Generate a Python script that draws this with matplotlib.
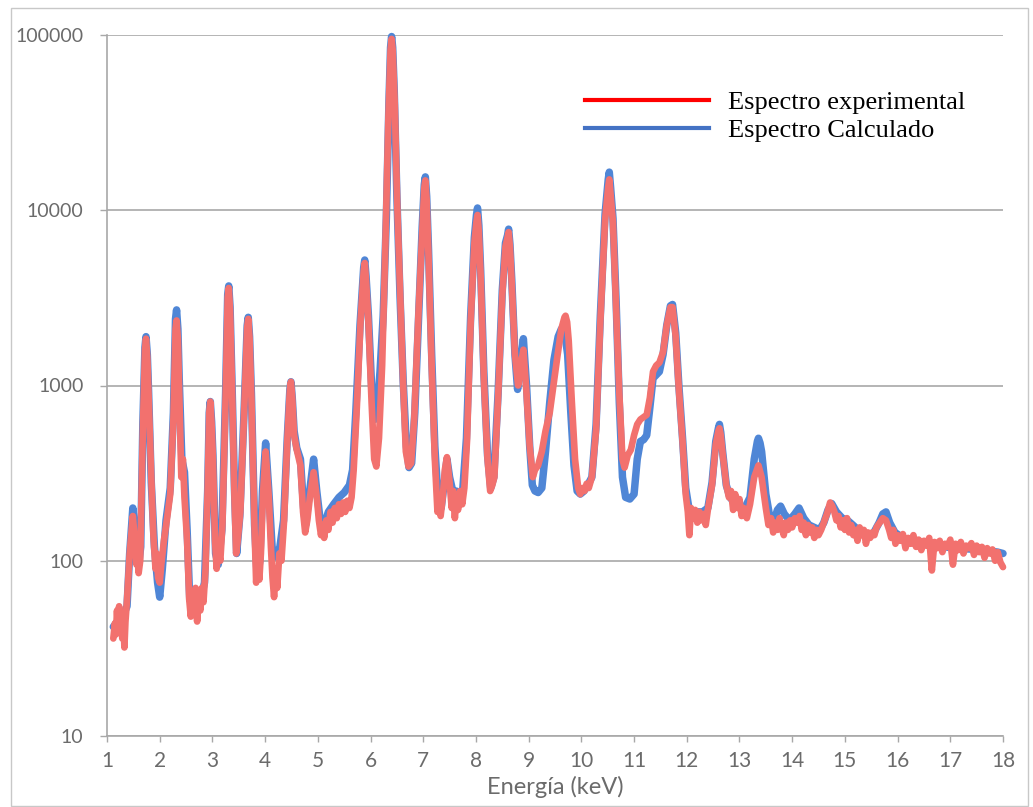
import matplotlib
matplotlib.use("Agg")
import matplotlib.pyplot as plt
from matplotlib.lines import Line2D
from matplotlib.patches import Rectangle

# energy (keV) and counts
calc_e = [1.12, 1.20, 1.30, 1.38, 1.43, 1.49, 1.55, 1.60, 1.64, 1.68, 1.72, 1.74, 1.765, 1.79, 1.84,
          1.90, 1.96, 2.00, 2.05, 2.12, 2.20, 2.26, 2.30, 2.32, 2.345, 2.37, 2.42, 2.47, 2.52, 2.57,
          2.65, 2.75, 2.85, 2.91, 2.94, 2.96, 2.985, 3.01, 3.06, 3.11, 3.18, 3.25, 3.29, 3.31, 3.335,
          3.37, 3.42, 3.46, 3.52, 3.60, 3.66, 3.68, 3.705, 3.74, 3.80, 3.85, 3.90, 3.95, 4.01, 4.07,
          4.14, 4.20, 4.28, 4.35, 4.42, 4.47, 4.49, 4.515, 4.55, 4.60, 4.67, 4.73, 4.77, 4.83, 4.92,
          4.98, 5.05, 5.12, 5.20, 5.30, 5.40, 5.50, 5.60, 5.66, 5.72, 5.80, 5.87, 5.89, 5.915, 5.96,
          6.02, 6.08, 6.12, 6.18, 6.24, 6.30, 6.35, 6.38, 6.40, 6.42, 6.45, 6.50, 6.56, 6.62, 6.68,
          6.73, 6.78, 6.84, 6.92, 6.98, 7.02, 7.04, 7.065, 7.10, 7.16, 7.22, 7.28, 7.34, 7.40, 7.45,
          7.50, 7.56, 7.62, 7.68, 7.75, 7.82, 7.90, 7.97, 8.01, 8.03, 8.055, 8.09, 8.15, 8.22, 8.28,
          8.34, 8.42, 8.50, 8.56, 8.60, 8.62, 8.645, 8.68, 8.74, 8.79, 8.84, 8.90, 8.96, 9.02, 9.07,
          9.12, 9.18, 9.25, 9.32, 9.40, 9.48, 9.56, 9.62, 9.68, 9.74, 9.80, 9.86, 9.92, 9.98, 10.05,
          10.12, 10.20, 10.28, 10.36, 10.45, 10.51, 10.53, 10.555, 10.60, 10.66, 10.72, 10.78, 10.84, 10.92, 11.00,
          11.06, 11.12, 11.18, 11.24, 11.30, 11.36, 11.42, 11.48, 11.55, 11.62, 11.69, 11.73, 11.79, 11.85, 11.92,
          11.98, 12.04, 12.10, 12.20, 12.30, 12.40, 12.48, 12.55, 12.60, 12.62, 12.645, 12.68, 12.75, 12.82, 12.90,
          13.00, 13.10, 13.20, 13.28, 13.34, 13.36, 13.39, 13.42, 13.50, 13.58, 13.66, 13.72, 13.78, 13.85, 13.95,
          14.05, 14.13, 14.22, 14.32, 14.42, 14.52, 14.60, 14.68, 14.75, 14.84, 14.95, 15.05, 15.15, 15.25, 15.35,
          15.45, 15.55, 15.65, 15.72, 15.78, 15.85, 15.95, 16.10, 16.30, 16.50, 16.70, 16.90, 17.10, 17.30, 17.50,
          17.70, 17.90, 18.00]
calc_counts = [42, 45, 48, 55, 110, 200, 130, 95, 120, 600, 1650, 1900, 1500, 900, 280,
               120, 75, 62, 90, 170, 260, 700, 2400, 2700, 2100, 1100, 380, 320, 150, 60,
               55, 55, 75, 250, 700, 810, 620, 400, 110, 95, 150, 900, 3300, 3700, 2800,
               1100, 250, 110, 180, 700, 2200, 2450, 1900, 900, 160, 80, 100, 250, 470, 250,
               110, 105, 120, 170, 500, 950, 1050, 850, 550, 440, 380, 200, 160, 230, 380,
               250, 165, 160, 190, 210, 230, 245, 270, 330, 700, 2200, 4700, 5200, 4200, 2500,
               1000, 640, 700, 1200, 2500, 9000, 42000, 85000, 98000, 85000, 48000, 12000, 3200, 1050, 450,
               340, 360, 700, 2800, 8000, 14000, 15500, 12000, 6000, 1500, 450, 230, 200, 280, 380,
               300, 250, 250, 245, 255, 500, 2500, 7000, 9400, 10300, 8200, 4500, 1200, 400, 260,
               300, 900, 3500, 6500, 7200, 7800, 6400, 4000, 1500, 950, 1300, 1850, 1000, 450, 270,
               250, 245, 260, 420, 800, 1400, 1900, 2100, 2050, 1500, 700, 350, 250, 240, 250,
               270, 300, 600, 2500, 9500, 15000, 16500, 13500, 9000, 3000, 800, 300, 230, 225, 240,
               380, 480, 490, 520, 750, 1100, 1150, 1200, 1500, 2200, 2850, 2900, 2000, 1000, 500,
               260, 200, 190, 190, 190, 200, 280, 480, 570, 600, 540, 420, 270, 230, 215,
               205, 200, 230, 380, 480, 500, 470, 420, 240, 175, 170, 195, 205, 185, 170,
               185, 200, 175, 160, 155, 150, 165, 195, 212, 190, 175, 170, 160, 150, 145,
               140, 145, 165, 185, 190, 165, 145, 135, 130, 125, 122, 120, 118, 117, 116,
               114, 112, 110]

exp_e = [1.12, 1.15, 1.17, 1.19, 1.21, 1.23, 1.25, 1.27, 1.29, 1.31, 1.33, 1.35, 1.38, 1.43, 1.49,
         1.53, 1.56, 1.58, 1.60, 1.63, 1.68, 1.72, 1.74, 1.765, 1.79, 1.84, 1.88, 1.92, 1.94, 1.97,
         2.00, 2.03, 2.08, 2.14, 2.20, 2.26, 2.30, 2.32, 2.345, 2.37, 2.41, 2.44, 2.47, 2.52, 2.56,
         2.59, 2.62, 2.65, 2.68, 2.71, 2.74, 2.77, 2.80, 2.83, 2.87, 2.91, 2.94, 2.96, 2.985, 3.01,
         3.05, 3.08, 3.11, 3.15, 3.19, 3.25, 3.29, 3.31, 3.335, 3.37, 3.42, 3.45, 3.48, 3.53, 3.60,
         3.66, 3.68, 3.705, 3.74, 3.80, 3.83, 3.86, 3.89, 3.92, 3.96, 4.01, 4.07, 4.11, 4.14, 4.17,
         4.20, 4.23, 4.27, 4.31, 4.36, 4.42, 4.47, 4.49, 4.515, 4.55, 4.60, 4.67, 4.72, 4.76, 4.80,
         4.85, 4.92, 4.98, 5.02, 5.06, 5.09, 5.12, 5.16, 5.20, 5.24, 5.28, 5.32, 5.36, 5.40, 5.44,
         5.48, 5.52, 5.56, 5.60, 5.64, 5.68, 5.74, 5.81, 5.87, 5.89, 5.915, 5.96, 6.02, 6.07, 6.11,
         6.16, 6.22, 6.28, 6.34, 6.38, 6.40, 6.42, 6.46, 6.51, 6.57, 6.62, 6.67, 6.72, 6.77, 6.83,
         6.91, 6.98, 7.02, 7.04, 7.065, 7.10, 7.16, 7.22, 7.27, 7.30, 7.33, 7.37, 7.41, 7.45, 7.50,
         7.54, 7.57, 7.60, 7.63, 7.66, 7.70, 7.74, 7.78, 7.83, 7.90, 7.97, 8.01, 8.03, 8.055, 8.09,
         8.15, 8.22, 8.27, 8.31, 8.35, 8.42, 8.50, 8.56, 8.60, 8.62, 8.645, 8.68, 8.74, 8.80, 8.85,
         8.90, 8.96, 9.02, 9.08, 9.12, 9.18, 9.25, 9.32, 9.40, 9.47, 9.55, 9.62, 9.68, 9.70, 9.73,
         9.76, 9.82, 9.88, 9.94, 9.98, 10.02, 10.06, 10.10, 10.14, 10.20, 10.28, 10.36, 10.45, 10.51, 10.53,
         10.555, 10.60, 10.66, 10.72, 10.78, 10.82, 10.88, 10.94, 11.00, 11.06, 11.12, 11.18, 11.24, 11.30, 11.36,
         11.42, 11.48, 11.55, 11.62, 11.69, 11.73, 11.79, 11.85, 11.92, 11.98, 12.02, 12.05, 12.08, 12.12, 12.16,
         12.20, 12.24, 12.28, 12.32, 12.36, 12.40, 12.48, 12.55, 12.60, 12.62, 12.645, 12.68, 12.75, 12.80, 12.84,
         12.88, 12.92, 12.96, 13.00, 13.04, 13.08, 13.14, 13.20, 13.28, 13.36, 13.42, 13.50, 13.55, 13.60, 13.64,
         13.68, 13.72, 13.76, 13.80, 13.84, 13.88, 13.92, 13.96, 14.00, 14.05, 14.10, 14.14, 14.18, 14.22, 14.26,
         14.30, 14.34, 14.38, 14.42, 14.46, 14.50, 14.55, 14.60, 14.66, 14.72, 14.76, 14.80, 14.84, 14.88, 14.92,
         14.96, 15.00, 15.04, 15.08, 15.12, 15.16, 15.20, 15.24, 15.28, 15.32, 15.36, 15.40, 15.44, 15.48, 15.52,
         15.56, 15.60, 15.66, 15.72, 15.78, 15.84, 15.88, 15.92, 15.96, 16.00, 16.05, 16.10, 16.15, 16.20, 16.25,
         16.30, 16.35, 16.40, 16.45, 16.50, 16.55, 16.60, 16.65, 16.70, 16.75, 16.80, 16.85, 16.90, 16.95, 17.00,
         17.05, 17.10, 17.15, 17.20, 17.25, 17.30, 17.35, 17.40, 17.45, 17.50, 17.55, 17.60, 17.65, 17.70, 17.75,
         17.80, 17.85, 17.90, 17.95, 18.00]
exp_counts = [36, 44, 38, 52, 40, 55, 42, 50, 36, 48, 32, 45, 60, 110, 180,
              130, 95, 110, 85, 100, 550, 1600, 1850, 1450, 850, 300, 140, 90, 110, 80,
              75, 95, 130, 175, 240, 650, 2100, 2350, 1850, 900, 300, 380, 230, 130, 60,
              48, 65, 50, 70, 45, 62, 52, 70, 58, 90, 260, 700, 810, 600, 380,
              130, 90, 115, 100, 160, 850, 3200, 3600, 2700, 1050, 220, 110, 130, 190, 680,
              2150, 2400, 1850, 850, 150, 75, 105, 78, 110, 240, 420, 230, 120, 80, 62,
              90, 70, 110, 100, 170, 480, 950, 1050, 850, 520, 430, 350, 190, 145, 170,
              230, 320, 230, 170, 140, 160, 135, 170, 150, 190, 165, 200, 175, 210, 185,
              215, 190, 220, 200, 230, 330, 750, 2300, 4500, 5000, 4000, 2300, 800, 380, 345,
              500, 1300, 6000, 35000, 82000, 95000, 82000, 40000, 10000, 2800, 1000, 420, 345, 360, 650,
              2600, 7500, 13400, 14800, 11500, 5500, 1300, 380, 190, 230, 180, 230, 330, 390, 280,
              200, 250, 175, 230, 195, 250, 210, 260, 480, 2300, 6500, 8600, 9400, 7500, 4200,
              1100, 380, 250, 270, 300, 850, 3300, 6200, 7000, 7500, 6200, 3800, 1500, 1000, 1300,
              1600, 900, 450, 300, 330, 350, 420, 550, 700, 1000, 1500, 2100, 2450, 2500, 2300,
              1800, 800, 380, 260, 240, 260, 250, 275, 260, 300, 560, 2300, 8800, 13600, 15000,
              12300, 8500, 2800, 900, 380, 340, 400, 430, 520, 600, 640, 660, 680, 850, 1200,
              1300, 1350, 1550, 2200, 2800, 2800, 1900, 950, 480, 240, 190, 140, 200, 175, 195,
              165, 190, 170, 185, 160, 195, 270, 460, 550, 570, 520, 410, 270, 230, 250,
              195, 240, 200, 225, 180, 200, 175, 210, 300, 350, 300, 200, 160, 175, 145,
              165, 150, 175, 155, 140, 165, 150, 170, 155, 175, 165, 180, 150, 165, 140,
              160, 145, 155, 135, 150, 140, 150, 165, 185, 215, 205, 190, 170, 180, 155,
              170, 150, 175, 145, 160, 140, 150, 130, 155, 140, 150, 125, 145, 135, 145,
              140, 155, 165, 175, 170, 150, 135, 150, 125, 140, 130, 142, 118, 135, 125,
              140, 120, 132, 115, 130, 122, 135, 88, 128, 118, 130, 112, 125, 120, 132,
              95, 125, 115, 128, 110, 122, 118, 126, 108, 122, 112, 120, 104, 118, 110,
              116, 100, 112, 98, 92]

legend_labels = ["Espectro experimental", "Espectro Calculado"]
y_ticks = [10, 100, 1000, 10000, 100000]
x_ticks = list(range(1, 19))

plt.rcParams['font.family'] = ['Lato', 'DejaVu Sans']
grey = '#6b6b6b'

fig = plt.figure(figsize=(10.33, 8.07), dpi=100)
ax = fig.add_axes([107 / 1033, 71 / 807, 896 / 1033, 701 / 807])

# clip off so the rounded top of the 6.4 keV peak is not cut by the frame
ax.plot(calc_e, calc_counts, color='#4f86d6', lw=5.4, solid_joinstyle='round',
        solid_capstyle='round', zorder=3, clip_on=False)
ax.plot(exp_e, exp_counts, color='#f2716e', lw=4.8, solid_joinstyle='round',
        solid_capstyle='round', zorder=4, clip_on=False)

ax.set_yscale('log')
ax.set_ylim(10, 100000)
ax.set_xlim(1, 18)
ax.set_yticks(y_ticks)
ax.set_yticklabels([str(v) for v in y_ticks])
ax.minorticks_off()
ax.set_xticks(x_ticks)
ax.grid(axis='y', color='#a8a8a8', lw=1.2)
ax.set_axisbelow(True)

for s in ['top', 'right']:
    ax.spines[s].set_visible(False)
for s in ['left', 'bottom']:
    ax.spines[s].set_color('#a8a8a8')
    ax.spines[s].set_linewidth(1.2)

ax.tick_params(axis='y', length=5, width=1, color='#a8a8a8', pad=12, labelsize=14, labelcolor=grey)
ax.tick_params(axis='x', length=4, width=1, color='#a8a8a8', pad=7, labelsize=15, labelcolor=grey)
ax.set_xlabel('Energía (keV)', fontsize=17, color=grey)
ax.xaxis.set_label_coords(0.5, -0.057)

handles = [Line2D([], [], color='#ff0000', lw=3),
           Line2D([], [], color='#4472c4', lw=3)]
ax.legend(handles, legend_labels, loc='upper left', bbox_to_anchor=(0.519, 0.939),
          frameon=False, prop={'family': 'Liberation Serif', 'size': 19},
          handlelength=4.7, handletextpad=0.7, labelspacing=0.15, borderpad=0)

# faint page border from the scan
fig.add_artist(Rectangle((11 / 1033, 1 / 807), 1017 / 1033, 798 / 807, transform=fig.transFigure,
                         fill=False, edgecolor='#c8c8c8', lw=1))

fig.savefig('out.png', dpi=100)
